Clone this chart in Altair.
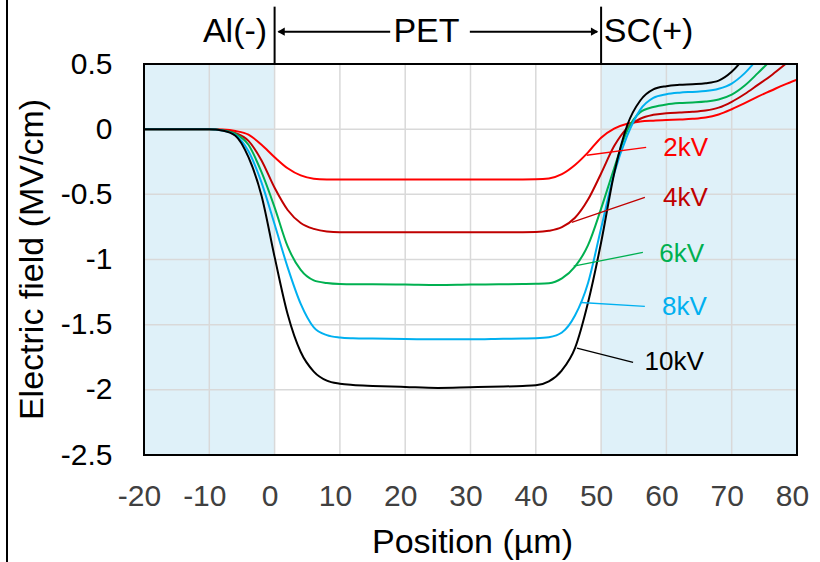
import altair as alt
import pandas as pd

# ---------------- data ----------------
x_pos = [-20, -16, -12, -10, -8, -6, -4, -2, 0, 2, 4, 6, 8, 10, 12, 15, 20, 25, 30, 35,
         38, 40, 42, 44, 46, 48, 50, 52, 54, 56, 58, 60, 62, 64, 66, 68, 70, 72, 74, 76, 78, 80]

e_2kv = [0, 0, 0, 0, -0.003, -0.014, -0.042, -0.12, -0.215, -0.3, -0.355, -0.38, -0.386, -0.387,
         -0.387, -0.387, -0.387, -0.386, -0.386, -0.386, -0.386, -0.385, -0.378, -0.345, -0.275,
         -0.178, -0.065, 0.005, 0.042, 0.058, 0.065, 0.07, 0.074, 0.079, 0.089, 0.113, 0.153, 0.2,
         0.25, 0.295, 0.34, 0.38]
e_4kv = [0, 0, 0, 0, -0.008, -0.03, -0.09, -0.24, -0.45, -0.62, -0.72, -0.765, -0.785, -0.79,
         -0.79, -0.79, -0.79, -0.79, -0.79, -0.79, -0.79, -0.789, -0.78, -0.752, -0.68, -0.54,
         -0.34, -0.13, 0.01, 0.08, 0.11, 0.122, 0.128, 0.133, 0.143, 0.165, 0.21, 0.27, 0.34,
         0.41, 0.49, 0.57]
e_6kv = [0, 0, 0, 0, -0.008, -0.035, -0.12, -0.33, -0.6, -0.9, -1.08, -1.16, -1.18, -1.188,
         -1.19, -1.19, -1.192, -1.196, -1.192, -1.19, -1.188, -1.186, -1.182, -1.145, -1.055,
         -0.89, -0.61, -0.3, -0.01, 0.13, 0.17, 0.19, 0.2, 0.205, 0.212, 0.228, 0.265, 0.335,
         0.43, 0.53, 0.63, 0.73]
e_8kv = [0, 0, 0, 0, -0.01, -0.045, -0.17, -0.41, -0.73, -1.06, -1.34, -1.52, -1.58, -1.598,
         -1.604, -1.607, -1.61, -1.612, -1.612, -1.608, -1.606, -1.604, -1.596, -1.56, -1.43,
         -1.18, -0.76, -0.34, -0.05, 0.15, 0.24, 0.268, 0.28, 0.286, 0.292, 0.31, 0.35, 0.43,
         0.54, 0.65, 0.76, 0.87]
e_10kv = [0, 0, 0, 0, -0.01, -0.05, -0.215, -0.51, -0.98, -1.42, -1.71, -1.86, -1.93, -1.953,
          -1.963, -1.97, -1.978, -1.985, -1.98, -1.975, -1.97, -1.965, -1.935, -1.85, -1.68,
          -1.33, -0.87, -0.34, 0.03, 0.22, 0.305, 0.33, 0.34, 0.345, 0.352, 0.372, 0.44, 0.55,
          0.66, 0.77, 0.88, 0.99]

series_names = ["2kV", "4kV", "6kV", "8kV", "10kV"]
series_colors = ["#FF0000", "#C00000", "#00B050", "#00B0F0", "#000000"]
series_values = [e_2kv, e_4kv, e_6kv, e_8kv, e_10kv]

# label annotations (text position and leader line ends, data units)
label_x = [62.95, 62.9, 62.35, 62.75, 61.2]
label_y = [-0.145, -0.527, -0.956, -1.367, -1.79]
leader_x1 = [47.8, 45.5, 45.8, 46.9, 46.3]
leader_y1 = [-0.20, -0.715, -1.05, -1.33, -1.68]
leader_x2 = [56.9, 56.7, 56.4, 56.7, 54.9]
leader_y2 = [-0.14, -0.523, -0.946, -1.36, -1.79]

# shaded electrode regions
region_start = [-20, 50]
region_end = [0, 80]

# grid / ticks
x_ticks = [-20, -10, 0, 10, 20, 30, 40, 50, 60, 70, 80]
y_ticks = [0.5, 0, -0.5, -1, -1.5, -2, -2.5]
x_grid = [-10, 0, 10, 20, 30, 40, 50, 60, 70]
y_grid = [0, -0.5, -1, -1.5, -2]

# top labels
top_text = ["Al(-)", "PET"]
top_text_x = [-6.06, 23.26]
top_text_y = [0.746, 0.746]
sc_text = ["SC(+)"]
sc_text_x = [50.4]
boundary_x = [0, 50]
boundary_y1 = [0.5, 0.5]
boundary_y2 = [0.94, 0.94]
arrow_x1 = [0.6, 29.9]
arrow_x2 = [17.7, 49.4]
arrow_y = [0.748, 0.748]
arrow_tip_x = [1.0, 49.0]
arrow_shape = ["triangle-left", "triangle-right"]

# ---------------- build tables ----------------
rows = []
for k, (name, vals) in enumerate(zip(series_names, series_values)):
    for xv, yv in zip(x_pos, vals):
        rows.append({"series": name, "x": xv, "y": yv, "k": k})
curves = pd.DataFrame(rows)

labels = pd.DataFrame({"series": series_names, "lx": label_x, "ly": label_y,
                       "x1": leader_x1, "y1": leader_y1, "x2": leader_x2, "y2": leader_y2})
regions = pd.DataFrame({"xs": region_start, "xe": region_end,
                        "ys": [y_ticks[-1]] * 2, "ye": [y_ticks[0]] * 2})
box = pd.DataFrame({"xs": [x_ticks[0]], "xe": [x_ticks[-1]], "ys": [y_ticks[-1]], "ye": [y_ticks[0]]})
xg = pd.DataFrame({"xg": x_grid})
yg = pd.DataFrame({"yg": y_grid})
tops = pd.DataFrame({"t": top_text, "tx": top_text_x, "ty": top_text_y})
sc = pd.DataFrame({"t": sc_text, "tx": sc_text_x, "ty": [0.746]})
bounds = pd.DataFrame({"bx": boundary_x, "by1": boundary_y1, "by2": boundary_y2})
arrows = pd.DataFrame({"ax1": arrow_x1, "ax2": arrow_x2, "ay": arrow_y,
                       "tip": arrow_tip_x, "shape": arrow_shape})

W, H = 653, 391
xscale = alt.Scale(domain=[-20, 80], nice=False, zero=False)
yscale = alt.Scale(domain=[-2.5, 0.5], nice=False, zero=False)
color_scale = alt.Scale(domain=series_names, range=series_colors)

FONT = "Liberation Sans"
MINUS_FIX = "replace(datum.label, '\u2212', '-')"

x_axis = alt.Axis(values=x_ticks, grid=False, domain=False, format="d", labelExpr=MINUS_FIX,
                  ticks=False, labelFontSize=30, labelColor="#404040", labelPadding=26,
                  labelOverlap=False, labelOffset=-5, labelFlush=False,
                  title="Position (µm)", titleFontSize=34, titleFontWeight="normal",
                  titleColor="#000000", titleX=328, titleY=97, titleBaseline="alphabetic")
y_axis = alt.Axis(values=y_ticks, grid=False, domain=False, format="~g", labelExpr=MINUS_FIX,
                  ticks=False, labelFontSize=30, labelColor="#000000", labelPadding=32,
                  labelOverlap=False, labelFlush=False,
                  title="Electric field (MV/cm)", titleFontSize=34, titleFontWeight="normal",
                  titleColor="#000000", titleX=-102, titleY=195, titleBaseline="alphabetic",
                  titleAngle=270)


def X(f):
    return alt.X(f, type="quantitative", scale=xscale, axis=x_axis)


def Y(f):
    return alt.Y(f, type="quantitative", scale=yscale, axis=y_axis)


shade = alt.Chart(regions).mark_rect(color="#DFF1F9").encode(
    x=X("xs"), x2="xe", y=Y("ys"), y2="ye")

gridx = alt.Chart(xg).mark_rule(color="#D9D9D9", strokeWidth=1.5).encode(x=X("xg"))
gridy = alt.Chart(yg).mark_rule(color="#D9D9D9", strokeWidth=1.5).encode(y=Y("yg"))

lines = alt.Chart(curves).mark_line(interpolate="monotone", strokeWidth=2, clip=True).encode(
    x=X("x"), y=Y("y"),
    color=alt.Color("series:N", scale=color_scale, legend=None),
    detail="series:N",
    order="k:Q")

border = alt.Chart(box).mark_rect(fillOpacity=0, stroke="#000000", strokeWidth=2).encode(
    x=X("xs"), x2="xe", y=Y("ys"), y2="ye")

leaders = alt.Chart(labels).mark_rule(strokeWidth=1.3).encode(
    x=X("x1"), y=Y("y1"), x2="x2", y2="y2",
    color=alt.Color("series:N", scale=color_scale, legend=None))

label_text = alt.Chart(labels).mark_text(fontSize=26, font=FONT, align="center",
                                         baseline="middle").encode(
    x=X("lx"), y=Y("ly"), text="series:N",
    color=alt.Color("series:N", scale=color_scale, legend=None))

top_lbl = alt.Chart(tops).mark_text(fontSize=34, font=FONT, align="center",
                                    baseline="middle", color="#000000").encode(
    x=X("tx"), y=Y("ty"), text="t:N")
sc_lbl = alt.Chart(sc).mark_text(fontSize=34, font=FONT, align="left",
                                 baseline="middle", color="#000000").encode(
    x=X("tx"), y=Y("ty"), text="t:N")

bound_rules = alt.Chart(bounds).mark_rule(color="#000000", strokeWidth=2).encode(
    x=X("bx"), y=Y("by1"), y2="by2")

arrow_lines = alt.Chart(arrows).mark_rule(color="#000000", strokeWidth=2).encode(
    x=X("ax1"), x2="ax2", y=Y("ay"))
arrow_heads = alt.Chart(arrows).mark_point(filled=True, color="#000000", size=70, opacity=1).encode(
    x=X("tip"), y=Y("ay"),
    shape=alt.Shape("shape:N", scale=None, legend=None))

frame_line = alt.Chart(pd.DataFrame({"a": [0]})).mark_rule(color="#000000", strokeWidth=2).encode(
    x=alt.value(-137), y=alt.value(-64), y2=alt.value(498))

chart = alt.layer(
    shade, gridx, gridy, lines, border, leaders, label_text, top_lbl, sc_lbl,
    bound_rules, arrow_lines, arrow_heads, frame_line
).properties(
    width=W, height=H,
    autosize=alt.AutoSizeParams(type="none"),
    padding={"left": 144, "top": 64, "right": 23, "bottom": 107},
    background="#FFFFFF"
).configure(font=FONT).configure_view(stroke=None)

chart.save("out.html", embed_options={"renderer": "svg", "actions": False})
